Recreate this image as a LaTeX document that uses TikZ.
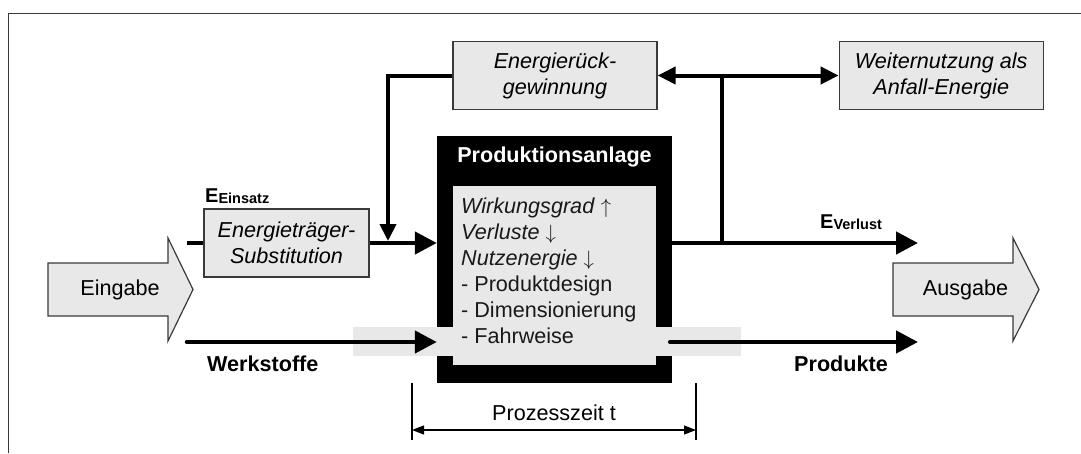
\documentclass[tikz,border=0pt]{standalone}
\usepackage{fontspec}
\setmainfont{Liberation Sans}
\usepackage{tikz}
\usetikzlibrary{arrows.meta, positioning, calc}
\definecolor{hellgrau}{HTML}{E8E8E8}
\definecolor{dunkelgrau}{HTML}{3A3A3A}
\newcommand{\energie}[1]{{\fontsize{20}{20}\selectfont\bfseries E\raisebox{-1pt}{\fontsize{14.5}{14.5}\selectfont #1}}}

\begin{document}
\begin{tikzpicture}[x=1pt, y=-1pt, font=\fontsize{21.6}{26}\selectfont,
		kasten/.style={draw=dunkelgrau, line width=1.2pt, fill=hellgrau, align=center, inner sep=0pt,
			minimum width=204pt, minimum height=68pt, font=\fontsize{21.6}{26}\selectfont\itshape},
		fluss/.style={line width=4.5pt, -{Triangle[length=22pt,width=22pt]}},
		rueck/.style={line width=4pt, -{Triangle[length=17pt,width=16pt]}},
		mass/.style={line width=1.2pt, {Triangle[length=12pt,width=9pt]}-{Triangle[length=12pt,width=9pt]}},
		grosspfeil/.style={draw=dunkelgrau, line width=1.2pt, fill=hellgrau}]
	\useasboundingbox (0,0) rectangle (1081,453);
	\draw[dunkelgrau, line width=1pt] (8,453) -- (8,13) -- (1081,13);

	% Anlage
	\node[fill=black, minimum width=235pt, minimum height=247pt, inner sep=0pt] (anlage) at (554.5,259.5) {};
	\node[text=white, font=\fontsize{21.6}{26}\selectfont\bfseries] (titel) at (554.5,157) {Produktionsanlage};
	\node[fill=hellgrau, minimum width=203pt, minimum height=179pt, inner sep=0pt] (innen) at (554.5,275.5) {};
	\node[fill=hellgrau, minimum width=388pt, minimum height=29pt, inner sep=0pt] (band) at (547,341.5) {};
	\node[anchor=north west, align=left, inner sep=0pt, text=black!90] (liste) at (461,198)
		{\textit{Wirkungsgrad} $\uparrow$\\ \textit{Verluste} $\downarrow$\\ \textit{Nutzenergie} $\downarrow$\\ - Produktdesign\\ - Dimensionierung\\ - Fahrweise};

	% Stroeme
	\coordinate (ein) at (187,243);
	\coordinate (werk) at (187,342);
	\coordinate (verl) at (918,243);
	\coordinate (prod) at (918,342);
	\coordinate (abzw) at (722,243);
	\coordinate (knick) at (388,241);
	\draw[fluss] (ein) -- (ein -| anlage.west);
	\draw[fluss, line cap=round] (werk) -- (werk -| anlage.west);
	\draw[fluss] (verl -| anlage.east) -- (verl);
	\draw[fluss, line cap=round] ($(prod -| anlage.east)+(-2,0)$) -- (prod);

	% Kaesten
	\node[kasten] (energ) at (555,75.5) {Energierück-\\gewinnung};
	\node[kasten, right=181pt of energ] (weiter) {Weiternutzung als\\Anfall-Energie};
	\node[kasten, minimum width=165pt] (subst) at (286.5,243) {Energieträger-\\Substitution};

	\draw[rueck] (energ.west) -| (knick);
	\draw[line width=4pt, {Triangle[length=18pt,width=17pt]}-{Triangle[length=18pt,width=17pt]}] (energ.east) -- (weiter.west);
	\draw[line width=4pt] (abzw) -- (abzw |- energ.east);

	% Eingabe / Ausgabe
	\draw[grosspfeil] (48,263) -- (168,263) -- (168,238) -- (193,289.5) -- (168,341) -- (168,316) -- (48,316) -- cycle;
	\node (eingabe) at (120,289.5) {Eingabe};
	\draw[grosspfeil] (893,263) -- (1013,263) -- (1013,238) -- (1039,289.5) -- (1013,341) -- (1013,316) -- (893,316) -- cycle;
	\node (ausgabe) at (965.5,289.5) {Ausgabe};

	% Beschriftung
	\node[anchor=base west, inner sep=0pt] (einsatz) at (205,202) {\energie{Einsatz}};
	\node[anchor=base west, inner sep=0pt] (verlust) at (820,228) {\energie{Verlust}};
	\node[anchor=west, inner sep=0pt, font=\fontsize{21.6}{26}\selectfont\bfseries] (werkstoffe) at (207,364) {Werkstoffe};
	\node[anchor=east, inner sep=0pt, font=\fontsize{21.6}{26}\selectfont\bfseries] (produkte) at (888,364) {Produkte};

	% Prozesszeit
	\coordinate (tl) at (412,383);
	\coordinate (tr) at (696,383);
	\draw[line width=1.2pt] (tl) -- ++(0,57);
	\draw[line width=1.2pt] (tr) -- ++(0,57);
	\draw[mass] ($(tl)+(0,47)$) -- ($(tr)+(0,47)$);
	\node (zeit) at (554,413) {Prozesszeit t};
\end{tikzpicture}
\end{document}
